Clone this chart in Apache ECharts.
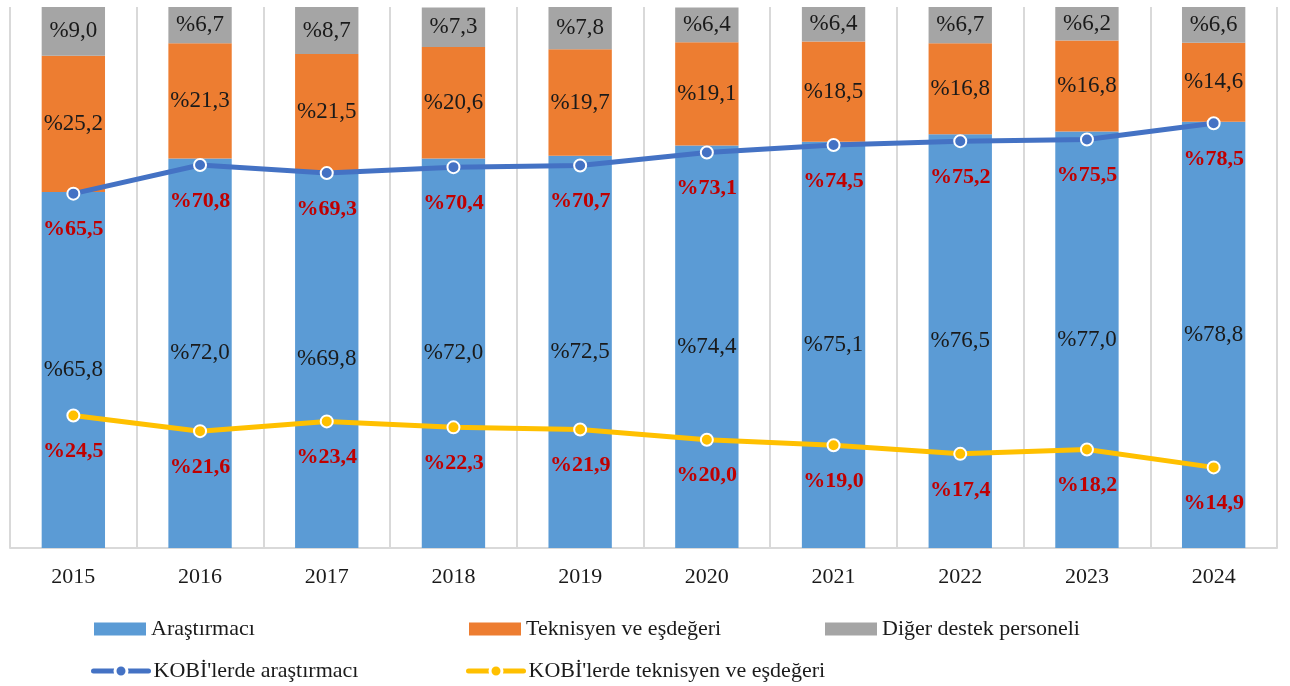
<!DOCTYPE html>
<html>
<head>
<meta charset="utf-8">
<script src="https://cdn.jsdelivr.net/npm/echarts@6/dist/echarts.min.js"></script>
<style>
  html, body { margin: 0; padding: 0; background: #fff; }
  #chart { width: 1290px; height: 686px; }
</style>
</head>
<body>
<div id="chart"></div>
<script>
// Years on the category axis
const years = ['2015', '2016', '2017', '2018', '2019', '2020', '2021', '2022', '2023', '2024'];

// Staff composition (%), stacked to 100
const arastirmaci = [65.8, 72.0, 69.8, 72.0, 72.5, 74.4, 75.1, 76.5, 77.0, 78.8];
const teknisyen   = [25.2, 21.3, 21.5, 20.6, 19.7, 19.1, 18.5, 16.8, 16.8, 14.6];
const diger       = [9.0, 6.7, 8.7, 7.3, 7.8, 6.4, 6.4, 6.7, 6.2, 6.6];

// Shares within SMEs (KOBİ)
const kobiArastirmaci = [65.5, 70.8, 69.3, 70.4, 70.7, 73.1, 74.5, 75.2, 75.5, 78.5];
const kobiTeknisyen   = [24.5, 21.6, 23.4, 22.3, 21.9, 20.0, 19.0, 17.4, 18.2, 14.9];

const FONT = '"Liberation Serif", "DejaVu Serif", serif';
const pct = v => '%' + v.toFixed(1).replace('.', ',');

const barLabel = {
  show: true,
  position: 'inside',
  color: '#1a1a1a',
  fontFamily: FONT,
  fontSize: 23,
  formatter: p => pct(p.value)
};

const lineLabel = {
  show: true,
  position: 'bottom',
  distance: 18,
  color: '#c00000',
  fontFamily: FONT,
  fontSize: 22,
  fontWeight: 'bold',
  formatter: p => pct(p.value)
};

function bar(name, data, color) {
  return {
    name, type: 'bar', stack: 'total', data,
    barWidth: '50%',
    itemStyle: { color },
    label: barLabel,
    emphasis: { disabled: true }
  };
}

function line(name, data, color) {
  return {
    name, type: 'line', data,
    symbol: 'circle', symbolSize: 12,
    z: 5,
    lineStyle: { color, width: 5 },
    itemStyle: { color, borderColor: '#fff', borderWidth: 2 },
    label: lineLabel,
    emphasis: { disabled: true }
  };
}

const legendText = { fontFamily: FONT, fontSize: 22, color: '#1a1a1a' };
function legend(name, left, top, isLine) {
  const l = {
    data: [{ name, icon: isLine ? undefined : 'rect' }], left, top,
    itemWidth: isLine ? 55 : 52, itemHeight: isLine ? 15 : 13,
    itemGap: 0,
    textStyle: legendText,
    selectedMode: false
  };
  if (isLine) {
    l.lineStyle = { width: 5, cap: 'round' };
    l.itemStyle = { borderColor: '#fff', borderWidth: 3 };
  }
  return l;
}

const chart = echarts.init(document.getElementById('chart'), null, { renderer: 'canvas' });
chart.setOption({
  animation: false,
  backgroundColor: '#fff',
  grid: { left: 10, right: 13, top: 7, bottom: 138, containLabel: false },
  legend: [
    legend('Araştırmacı', 89, 613, false),
    legend('Teknisyen ve eşdeğeri', 464, 613, false),
    legend('Diğer destek personeli', 820, 613, false),
    legend("KOBİ'lerde araştırmacı", 86, 655, true),
    legend("KOBİ'lerde teknisyen ve eşdeğeri", 461, 655, true)
  ],
  xAxis: {
    type: 'category',
    data: years,
    boundaryGap: true,
    axisLine: { show: true, lineStyle: { color: '#d9d9d9', width: 2 } },
    axisTick: { show: false },
    splitLine: { show: true, lineStyle: { color: '#d9d9d9', width: 2 } },
    axisLabel: { color: '#1a1a1a', fontFamily: FONT, fontSize: 22, margin: 18 }
  },
  yAxis: {
    type: 'value', min: 0, max: 100,
    show: false,
    splitLine: { show: false }
  },
  series: [
    bar('Araştırmacı', arastirmaci, '#5b9bd5'),
    bar('Teknisyen ve eşdeğeri', teknisyen, '#ed7d31'),
    bar('Diğer destek personeli', diger, '#a5a5a5'),
    line("KOBİ'lerde araştırmacı", kobiArastirmaci, '#4472c4'),
    line("KOBİ'lerde teknisyen ve eşdeğeri", kobiTeknisyen, '#ffc000')
  ]
});
</script>
</body>
</html>
